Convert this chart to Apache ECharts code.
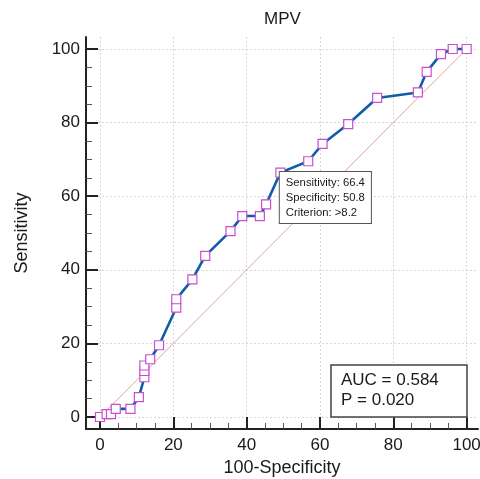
<!DOCTYPE html>
<html><head><meta charset="utf-8">
<script src="https://cdn.jsdelivr.net/npm/echarts@6/dist/echarts.min.js"></script>
<style>html,body{margin:0;padding:0;background:#fff}#c{width:480px;height:479px}</style>
</head><body><div id="c"></div>
<script>
const chartTitle = 'MPV';
const xName = '100-Specificity';
const yName = 'Sensitivity';
const oneMinusSpec = [0, 1.8, 3.0, 4.3, 8.3, 10.6, 12.1, 12.1, 12.1, 13.7, 16.1, 20.8, 20.8, 25.2, 28.7, 35.6, 38.8, 43.6, 45.3, 49.2, 56.8, 60.7, 67.7, 75.6, 86.7, 89.1, 93.0, 96.2, 100];
const sensitivity  = [0, 0.8, 0.8, 2.2, 2.2, 5.4, 10.8, 12.5, 14.0, 15.7, 19.5, 29.7, 32.0, 37.4, 43.8, 50.5, 54.6, 54.6, 57.8, 66.4, 69.5, 74.2, 79.6, 86.7, 88.2, 93.8, 98.6, 100, 100];
const diagX = [0, 100];
const diagY = [0, 100];
const majorTicks = [0, 20, 40, 60, 80, 100];
const minorTicks = [5, 10, 15, 25, 30, 35, 45, 50, 55, 65, 70, 75, 85, 90, 95];
const criterionIndex = 19;
const criterionLines = ['Sensitivity: 66.4', 'Specificity: 50.8', 'Criterion: >8.2'];
const aucText = ['AUC = 0.584', 'P = 0.020'];

const FONT = "'Liberation Sans', Arial, sans-serif";
const xMin = -3.82, xMax = 103.1, yMin = -3.26, yMax = 103.26;
const gridPos = {left: 86, right: 2, top: 37, bottom: 50, containLabel: false, outerBoundsMode: 'none'};

const rocData = oneMinusSpec.map((x, i) => {
  const item = {value: [x, sensitivity[i]]};
  if (i === criterionIndex) {
    item.label = {
      show: true,
      formatter: criterionLines.join('\n'),
      position: [4.5, 4.5],
      align: 'left', verticalAlign: 'top',
      fontFamily: FONT, fontSize: 11.3, lineHeight: 15, color: '#1a1a1a',
      backgroundColor: '#fff', borderColor: '#555', borderWidth: 1,
      padding: [3, 6, 3, 6]
    };
  }
  return item;
});
const diagData = diagX.map((x, i) => [x, diagY[i]]);

function majorAxis(isX) {
  return {
    type: 'value', gridIndex: 0,
    min: isX ? xMin : yMin, max: isX ? xMax : yMax,
    position: isX ? 'bottom' : 'left',
    name: isX ? xName : yName,
    nameLocation: 'middle', nameGap: isX ? 29 : 55,
    nameTextStyle: {fontFamily: FONT, fontSize: 18, color: '#1a1a1a'},
    axisLine: {show: true, onZero: false, lineStyle: {color: '#222', width: 2}},
    axisTick: {show: true, inside: true, length: 12, customValues: majorTicks, lineStyle: {color: '#222', width: 2}},
    axisLabel: {customValues: majorTicks, fontFamily: FONT, fontSize: 17, color: '#1a1a1a', margin: isX ? 8 : 6},
    splitLine: {show: true, lineStyle: {color: '#d6d6d6', width: 1, type: [2, 2]}},
    minorTick: {show: false}
  };
}
function minorAxis(isX) {
  return {
    type: 'value', gridIndex: 1,
    min: isX ? xMin : yMin, max: isX ? xMax : yMax,
    position: isX ? 'bottom' : 'left',
    axisLine: {show: false, onZero: false},
    axisTick: {show: true, inside: true, length: 6, customValues: minorTicks, lineStyle: {color: '#555', width: 1}},
    axisLabel: {show: false},
    splitLine: {show: false}
  };
}

const chart = echarts.init(document.getElementById('c'), null, {renderer: 'canvas'});
chart.setOption({
  animation: false,
  backgroundColor: '#fff',
  title: [
    {text: chartTitle, left: 264, top: 11, padding: 0,
     textStyle: {fontFamily: FONT, fontSize: 17, fontWeight: 'normal', color: '#1a1a1a'}},
    {text: aucText.join('\n'), left: 331, top: 365,
     padding: [5, 28, 6, 10], backgroundColor: '#fff', borderColor: '#444', borderWidth: 1.5,
     textStyle: {fontFamily: FONT, fontSize: 17, lineHeight: 20.5, fontWeight: 'normal', color: '#1a1a1a'}}
  ],
  grid: [Object.assign({}, gridPos), Object.assign({}, gridPos)],
  xAxis: [majorAxis(true), minorAxis(true)],
  yAxis: [majorAxis(false), minorAxis(false)],
  series: [
    {type: 'line', xAxisIndex: 0, yAxisIndex: 0, data: diagData, symbol: 'none',
     lineStyle: {color: '#e9a0a0', width: 1}, silent: true, z: 1},
    {type: 'line', xAxisIndex: 0, yAxisIndex: 0, data: rocData,
     symbol: 'rect', symbolSize: 9, showAllSymbol: true,
     lineStyle: {color: '#0f5caa', width: 2.6},
     itemStyle: {color: '#fff', borderColor: '#c84fcf', borderWidth: 1.2},
     z: 3}
  ]
});
</script></body></html>
